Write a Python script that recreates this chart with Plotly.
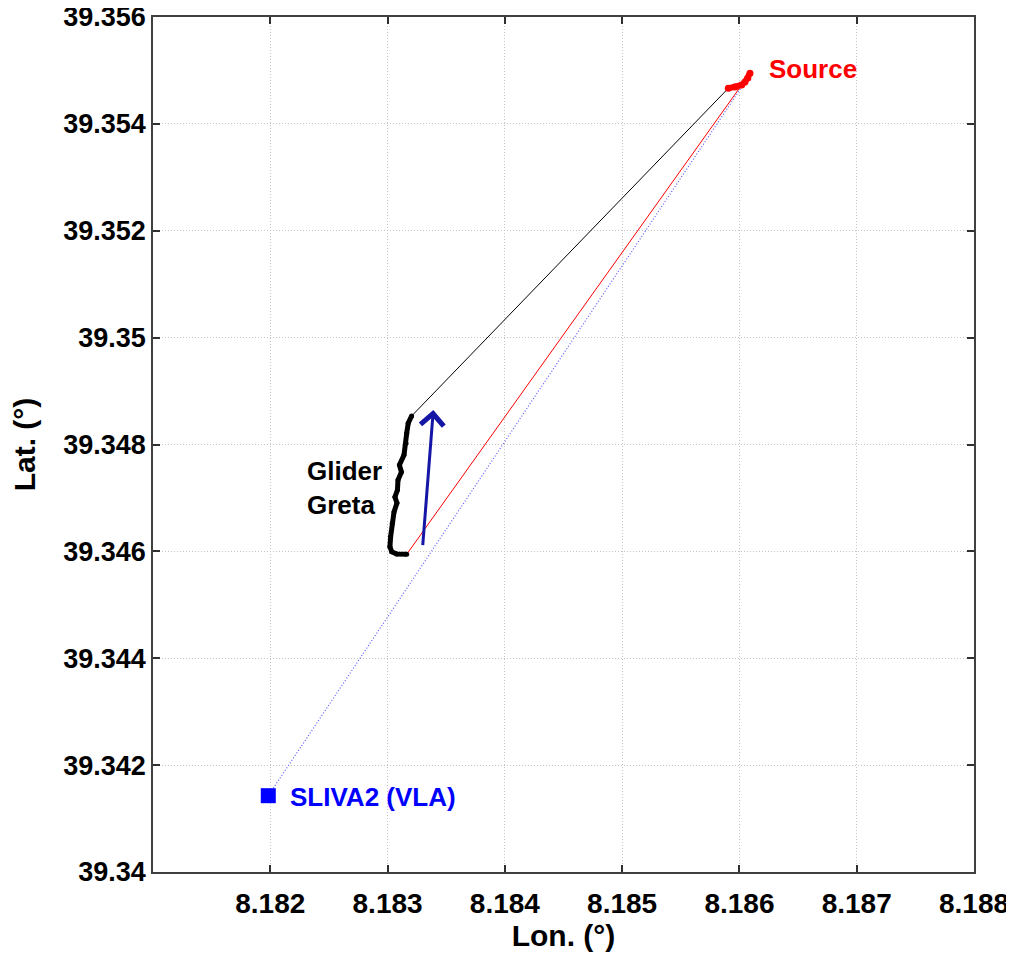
import plotly.graph_objects as go

# ---- data ----
glider_lon = [8.183205, 8.183176, 8.183163, 8.183157, 8.183140, 8.183101, 8.183118,
              8.183089, 8.183084, 8.183063, 8.183080, 8.183055, 8.183040, 8.183026,
              8.183020, 8.183035, 8.183078, 8.183163]
glider_lat = [39.348533, 39.348397, 39.348209, 39.348022, 39.347803, 39.347616, 39.347485,
              39.347336, 39.347148, 39.347017, 39.346905, 39.346737, 39.346525, 39.346274,
              39.346087, 39.345994, 39.345951, 39.345945]

source_lon = [8.185905, 8.185962, 8.186019, 8.186047, 8.186072, 8.186090]
source_lat = [39.354666, 39.354690, 39.354727, 39.354784, 39.354858, 39.354946]

vla_lon = [8.181983]
vla_lat = [39.341428]

# connecting lines
black_lon = [8.183205, 8.185905]
black_lat = [39.348533, 39.354666]
red_lon = [8.183163, 8.186019]
red_lat = [39.345945, 39.354727]
blue_lon = [8.181983, 8.186047]
blue_lat = [39.341428, 39.354784]

# heading arrow (tail -> head)
arrow_lon = [8.183299, 8.183390]
arrow_lat = [39.346087, 39.348646]

x_ticks = [8.182, 8.183, 8.184, 8.185, 8.186, 8.187, 8.188]
x_ticktext = ["8.182", "8.183", "8.184", "8.185", "8.186", "8.187", "8.188"]
y_ticks = [39.340, 39.342, 39.344, 39.346, 39.348, 39.350, 39.352, 39.354, 39.356]
y_ticktext = ["39.34", "39.342", "39.344", "39.346", "39.348", "39.35", "39.352", "39.354", "39.356"]

FONT = "Liberation Sans, Arial, sans-serif"

fig = go.Figure()

fig.add_trace(go.Scatter(x=blue_lon, y=blue_lat, mode="lines",
                         line=dict(color="#5a5aff", width=1.2, dash="1px,2px"), showlegend=False))
fig.add_trace(go.Scatter(x=black_lon, y=black_lat, mode="lines",
                         line=dict(color="black", width=1), showlegend=False))
fig.add_trace(go.Scatter(x=red_lon, y=red_lat, mode="lines",
                         line=dict(color="red", width=1), showlegend=False))
fig.add_trace(go.Scatter(x=glider_lon, y=glider_lat, mode="lines+markers",
                         line=dict(color="black", width=5),
                         marker=dict(color="black", size=5), showlegend=False))
fig.add_trace(go.Scatter(x=source_lon, y=source_lat, mode="lines+markers",
                         line=dict(color="red", width=6),
                         marker=dict(color="red", size=7), showlegend=False))
fig.add_trace(go.Scatter(x=vla_lon, y=vla_lat, mode="markers",
                         marker=dict(color="#0000ff", size=15, symbol="square"), showlegend=False))

fig.add_annotation(x=arrow_lon[1], y=arrow_lat[1], ax=arrow_lon[0], ay=arrow_lat[0],
                   xref="x", yref="y", axref="x", ayref="y", text="", showarrow=True,
                   arrowhead=4, arrowsize=1.5, arrowwidth=3, arrowcolor="#1616a6")

fig.add_annotation(x=8.186234, y=39.355027, xref="x", yref="y", text="Source",
                   showarrow=False, xanchor="left", yanchor="middle",
                   font=dict(family=FONT, size=26, color="red", weight="bold"))
fig.add_annotation(x=8.182296, y=39.347186, xref="x", yref="y", text="Glider<br>Greta",
                   showarrow=False, xanchor="left", yanchor="middle", align="left",
                   font=dict(family=FONT, size=26, color="black", weight="bold"))
fig.add_annotation(x=8.182151, y=39.341403, xref="x", yref="y", text="SLIVA2 (VLA)",
                   showarrow=False, xanchor="left", yanchor="middle",
                   font=dict(family=FONT, size=26, color="#0000ff", weight="bold"))

axis_common = dict(
    showgrid=True, gridcolor="#c4c4c4", griddash="1px,2px", gridwidth=1,
    showline=True, linecolor="#404040", linewidth=1.5, mirror="ticks",
    ticks="inside", ticklen=7, tickwidth=1.5, tickcolor="#303030",
    zeroline=False, ticklabeloverflow="allow",
)

fig.update_xaxes(range=[8.181, 8.188], tickvals=x_ticks, ticktext=x_ticktext,
                 ticklabelstandoff=6,
                 tickfont=dict(family=FONT, size=28, color="black", weight="bold"),
                 title=dict(text="Lon. (°)", font=dict(family=FONT, size=30, color="black", weight="bold"),
                            standoff=0),
                 **axis_common)
fig.update_yaxes(range=[39.340, 39.356], tickvals=y_ticks, ticktext=y_ticktext,
                 tickfont=dict(family=FONT, size=27, color="black", weight="bold"),
                 title=dict(text="Lat. (°)", font=dict(family=FONT, size=30, color="black", weight="bold"),
                            standoff=21),
                 **axis_common)

fig.update_layout(
    width=1014, height=954,
    margin=dict(l=145, r=48, t=9, b=90, autoexpand=False),
    plot_bgcolor="white", paper_bgcolor="white",
    showlegend=False,
)

fig.write_html("out.html")
